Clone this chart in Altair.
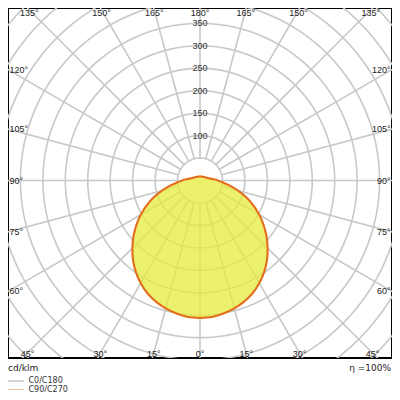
import math
import altair as alt
import pandas as pd

# ---------------- data ----------------
gamma_deg = [0, 5, 10, 15, 20, 25, 30, 35, 40, 45, 50, 55, 60, 65, 70, 75, 80, 85, 90,
             95, 100, 105, 110, 115, 120, 125, 130, 135, 140, 145, 150, 155, 160, 165, 170, 175, 180]
c0_c180 = [306, 305, 301, 295, 287, 277, 264, 249, 232, 213, 193.5, 173, 152.5, 131, 109.5, 88.5, 68.5, 51, 40,
           31, 24, 20, 17, 15, 14, 13, 12, 11, 11, 10, 10, 10, 9, 9, 9, 9, 9]
c90_c270 = [306, 305, 301, 295, 287, 277, 264, 249, 232, 213, 193.5, 173, 152.5, 131, 109.5, 88.5, 68.5, 51, 40,
            31, 24, 20, 17, 15, 14, 13, 12, 11, 11, 10, 10, 10, 9, 9, 9, 9, 9]
ring_values = [50, 100, 150, 200, 250, 300, 350, 400, 450, 500, 550, 600, 650]
ring_label_values = [100, 150, 200, 250, 300, 350]
spoke_angles = [0, 15, 30, 45, 60, 75, 90, 105, 120, 135, 150, 165,
                180, 195, 210, 225, 240, 255, 270, 285, 300, 315, 330, 345]
bottom_angles = [-45, -30, -15, 0, 15, 30, 45]
top_angles = [-135, -150, -165, 180, 165, 150, 135]
side_angles = [60, 75, 90, 105, 120]
legend_names = ["C0/C180", "C90/C270"]
unit_text = "cd/klm"
eta_text = "η =100%"

# ---------------- geometry ----------------
W, H = 384, 350
CX, CY = 192.0, 172.5
K = 0.449  # px per cd/klm
XDOM = [-CX / K, (W - CX) / K]
YDOM = [-(H - CY) / K, CY / K]
xsc = alt.Scale(domain=XDOM, nice=False, zero=False)
ysc = alt.Scale(domain=YDOM, nice=False, zero=False)


def X(f):
    return alt.X(f, type="quantitative", scale=xsc, axis=None)


def Y(f):
    return alt.Y(f, type="quantitative", scale=ysc, axis=None)


GRID = "#c8c8c8"
GW = 1.6
LABEL_FONT = "Liberation Sans"
LABEL_SIZE = 9

# rings
ring_rows = [{"r": r, "a": a} for r in ring_values for a in range(0, 361, 3)]
rings = alt.Chart(pd.DataFrame(ring_rows)).transform_calculate(
    x="datum.r*sin(datum.a*PI/180)", y="datum.r*cos(datum.a*PI/180)"
).mark_line(clip=True, stroke=GRID, strokeWidth=GW).encode(
    x=X("x"), y=Y("y"), detail="r:N", order="a:Q"
)

# spokes
spokes = alt.Chart(pd.DataFrame({"a": spoke_angles})).transform_calculate(
    x1=f"{ring_values[0]}*sin(datum.a*PI/180)", y1=f"{ring_values[0]}*cos(datum.a*PI/180)",
    x2=f"{ring_values[-1] + 200}*sin(datum.a*PI/180)", y2=f"{ring_values[-1] + 200}*cos(datum.a*PI/180)",
).mark_rule(clip=True, stroke=GRID, strokeWidth=GW).encode(
    x=X("x1"), y=Y("y1"), x2=alt.X2("x2"), y2=alt.Y2("y2")
)


def outline_rows(values, name):
    rows = []
    n = len(gamma_deg)
    for i, (g, v) in enumerate(zip(gamma_deg, values)):
        rows.append({"curve": name, "g": g, "I": v, "side": 1, "ord": i})
    for j, (g, v) in enumerate(zip(reversed(gamma_deg), reversed(values))):
        rows.append({"curve": name, "g": g, "I": v, "side": -1, "ord": n + j})
    return rows


def outline_chart(values, name):
    return alt.Chart(pd.DataFrame(outline_rows(values, name))).transform_calculate(
        x="datum.side*datum.I*sin(datum.g*PI/180)", y="-datum.I*cos(datum.g*PI/180)"
    )


fill = outline_chart(c90_c270, legend_names[1]).mark_line(
    fill="#e4ec3c", fillOpacity=0.75, strokeOpacity=0, clip=True, interpolate="catmull-rom"
).encode(x=X("x"), y=Y("y"), order="ord:Q")

line_c0 = outline_chart(c0_c180, legend_names[0]).mark_line(
    stroke="#a8a8a8", strokeWidth=1.2, clip=True, interpolate="catmull-rom"
).encode(x=X("x"), y=Y("y"), order="ord:Q")

line_c90 = outline_chart(c90_c270, legend_names[1]).mark_line(
    stroke="#e4701e", strokeWidth=2.1, clip=True, interpolate="catmull-rom"
).encode(x=X("x"), y=Y("y"), order="ord:Q")

# radius labels
rlab = alt.Chart(pd.DataFrame({"v": ring_label_values})).transform_calculate(
    x="0", t="format(datum.v, 'd')"
).mark_text(font=LABEL_FONT, fontSize=LABEL_SIZE, color="#333333", baseline="middle", align="center").encode(
    x=X("x"), y=Y("v"), text="t:N"
)

# angle labels
bdy = 172.5  # px from center to bottom label line
tdy = 170.7  # px from center to top label line
sdx = 191.5  # px from center to side label line
bottom_df = pd.DataFrame({
    "t": [f"{abs(a)}°" for a in bottom_angles],
    "x": [math.tan(math.radians(a)) * bdy / K for a in bottom_angles],
    "y": [(CY - 345.5) / K] * len(bottom_angles),
})
top_df = pd.DataFrame({
    "t": [f"{abs(a)}°" for a in top_angles],
    "x": [(1 if a > 0 else -1) * math.tan(math.radians(180 - abs(a))) * tdy / K for a in top_angles],
    "y": [(CY - 4.5) / K] * len(top_angles),
})
left_df = pd.DataFrame({
    "t": [f"{a}°" for a in side_angles],
    "x": [(1.5 - CX) / K] * len(side_angles),
    "y": [-sdx * math.cos(math.radians(a)) / math.sin(math.radians(a)) / K for a in side_angles],
})
right_df = pd.DataFrame({
    "t": [f"{a}°" for a in side_angles],
    "x": [(W - 1.5 - CX) / K] * len(side_angles),
    "y": [-sdx * math.cos(math.radians(a)) / math.sin(math.radians(a)) / K for a in side_angles],
})


def alabels(df, align):
    return alt.Chart(df).mark_text(font=LABEL_FONT, fontSize=LABEL_SIZE, color="#222222",
                                   baseline="middle", align=align).encode(
        x=X("x"), y=Y("y"), text="t:N"
    )


lab_b = alabels(bottom_df, "center")
lab_t = alabels(top_df, "center")
lab_l = alabels(left_df, "left")
lab_r = alabels(right_df, "right")

# footer texts and legend
foot_df = pd.DataFrame({"k": [0]})
unit = alt.Chart(foot_df).mark_text(font="DejaVu Sans", fontSize=9, color="#222222",
                                    align="left", baseline="middle", text=unit_text).encode(
    x=alt.value(0), y=alt.value(359.5)
)
eta = alt.Chart(foot_df).mark_text(font="DejaVu Sans", fontSize=9, color="#222222",
                                   align="right", baseline="middle", text=eta_text).encode(
    x=alt.value(W - 1), y=alt.value(359.5)
)
leg_c0_line = alt.Chart(foot_df).mark_rule(stroke="#a8a8a8", strokeWidth=1).encode(
    x=alt.value(0), x2=alt.value(16), y=alt.value(373)
)
leg_c90_line = alt.Chart(foot_df).mark_rule(stroke="#f2c4a4", strokeWidth=1).encode(
    x=alt.value(0), x2=alt.value(16), y=alt.value(381.5)
)
leg_c0_text = alt.Chart(foot_df).mark_text(font="DejaVu Sans", fontSize=8, color="#333333",
                                           align="left", baseline="middle", text=legend_names[0]).encode(
    x=alt.value(20.5), y=alt.value(373)
)
leg_c90_text = alt.Chart(foot_df).mark_text(font="DejaVu Sans", fontSize=8, color="#333333",
                                            align="left", baseline="middle", text=legend_names[1]).encode(
    x=alt.value(20.5), y=alt.value(381.5)
)

chart = alt.layer(
    rings, spokes, fill, line_c0, line_c90, rlab, lab_b, lab_t, lab_l, lab_r,
    unit, eta, leg_c0_line, leg_c90_line, leg_c0_text, leg_c90_text
).properties(
    width=W, height=H,
    padding={"left": 0, "top": 0, "right": 0, "bottom": 34},
    autosize=alt.AutoSizeParams(type="none"),
).configure_view(stroke="black", strokeWidth=2)

chart.save("out.html", embed_options={"renderer": "svg", "actions": False})
